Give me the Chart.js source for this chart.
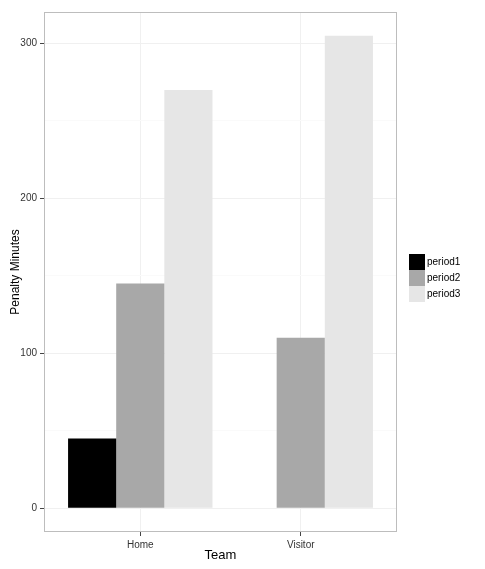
<!DOCTYPE html>
<html>
<head>
<meta charset="utf-8">
<script src="https://cdn.jsdelivr.net/npm/chart.js@4"></script>
<style>
	html, body { margin: 0; padding: 0; background: #ffffff; }
	#wrap { width: 485px; height: 569px; }
</style>
</head>
<body>
<div id="wrap"><canvas id="penaltyChart"></canvas></div>
<script>
// data
var teams = ['Home', 'Visitor'];
var periods = ['period1', 'period2', 'period3'];
var period1 = [45, null];
var period2 = [145, 110];
var period3 = [270, 305];
var yTicks = [0, 50, 100, 150, 200, 250, 300];
var fills = ['#000000', '#a8a8a8', '#e6e6e6'];

var seriesValues = [period1, period2, period3];

// panel border + legend keys, ggplot style
var panelPlugin = {
	id: 'panel',
	afterDraw: function(chart) {
		var ctx = chart.ctx;
		var a = chart.chartArea;
		ctx.save();
		ctx.strokeStyle = '#bdbdbd';
		ctx.lineWidth = 1;
		ctx.strokeRect(a.left + 0.5, a.top + 0.5, a.right - a.left - 1, a.bottom - a.top - 1);

		// legend
		var key = 16;
		var x = a.right + 12;
		var y = (a.top + a.bottom) / 2 - 18;
		ctx.font = '10px "Liberation Sans", Arial, sans-serif';
		ctx.textBaseline = 'middle';
		ctx.textAlign = 'left';
		chart.data.datasets.forEach(function(ds, i) {
			ctx.fillStyle = ds.backgroundColor;
			ctx.fillRect(x, y + i * key, key, key);
			ctx.fillStyle = '#000000';
			ctx.fillText(ds.label, x + key + 2, y + i * key + key / 2);
		});
		ctx.restore();
	} //end of afterDraw
};

var datasets = [];
for (var i = 0; i < periods.length; i++) {
	datasets.push({
		label: periods[i],
		data: seriesValues[i].map(function(v, j) { return {x: j + 1, y: v}; }),
		backgroundColor: fills[i],
		borderWidth: 0,
		categoryPercentage: 0.9,
		barPercentage: 1.0
	});
}

Chart.defaults.font.family = '"Liberation Sans", Arial, sans-serif';
Chart.defaults.color = '#333333';

var config = {
	type: 'bar',
	data: {
		datasets: datasets
	},
	plugins: [panelPlugin],
	options: {
		responsive: true,
		maintainAspectRatio: false,
		animation: false,
		layout: {
			padding: {top: 12, right: 88, bottom: 0, left: 0}
		},
		plugins: {
			legend: {display: false},
			tooltip: {enabled: false}
		},
		scales: {
			x: {
				type: 'linear',
				min: 0.4,
				max: 2.6,
				offset: false,
				afterBuildTicks: function(s) {
					s.ticks = teams.map(function(t, i) { return {value: i + 1}; });
				},
				afterFit: function(s) { s.height = 37; },
				ticks: {
					padding: 3,
					font: {size: 10},
					color: '#333333',
					callback: function(v) { return teams[v - 1]; }
				},
				grid: {
					offset: false,
					color: '#f0f0f0',
					tickColor: '#444444',
					tickLength: 4,
					drawTicks: true
				},
				border: {display: false},
				title: {
					display: true,
					text: 'Team',
					font: {size: 13},
					color: '#000000',
					padding: {top: 0, bottom: 6}
				}
			}, //end of x-axis
			y: {
				min: -15.25,
				max: 320.25,
				afterBuildTicks: function(s) {
					s.ticks = yTicks.map(function(v) { return {value: v}; });
				},
				afterFit: function(s) { s.width = 44; },
				ticks: {
					padding: 3,
					font: {size: 10},
					color: '#333333',
					callback: function(v) { return v % 100 === 0 ? v : ''; }
				},
				grid: {
					color: function(c) { return c.tick && c.tick.value % 100 === 0 ? '#f0f0f0' : '#fafafa'; },
					tickColor: function(c) { return c.tick && c.tick.value % 100 === 0 ? '#444444' : 'rgba(0,0,0,0)'; },
					tickLength: 4
				},
				border: {display: false},
				title: {
					display: true,
					text: 'Penalty Minutes',
					font: {size: 12},
					color: '#000000',
					padding: {top: 8, bottom: 0}
				}
			} //end of y-axis
		} //end of scales
	} //end of options
}; //end of config

var myChart = new Chart(document.getElementById('penaltyChart'), config);
</script>
</body>
</html>
